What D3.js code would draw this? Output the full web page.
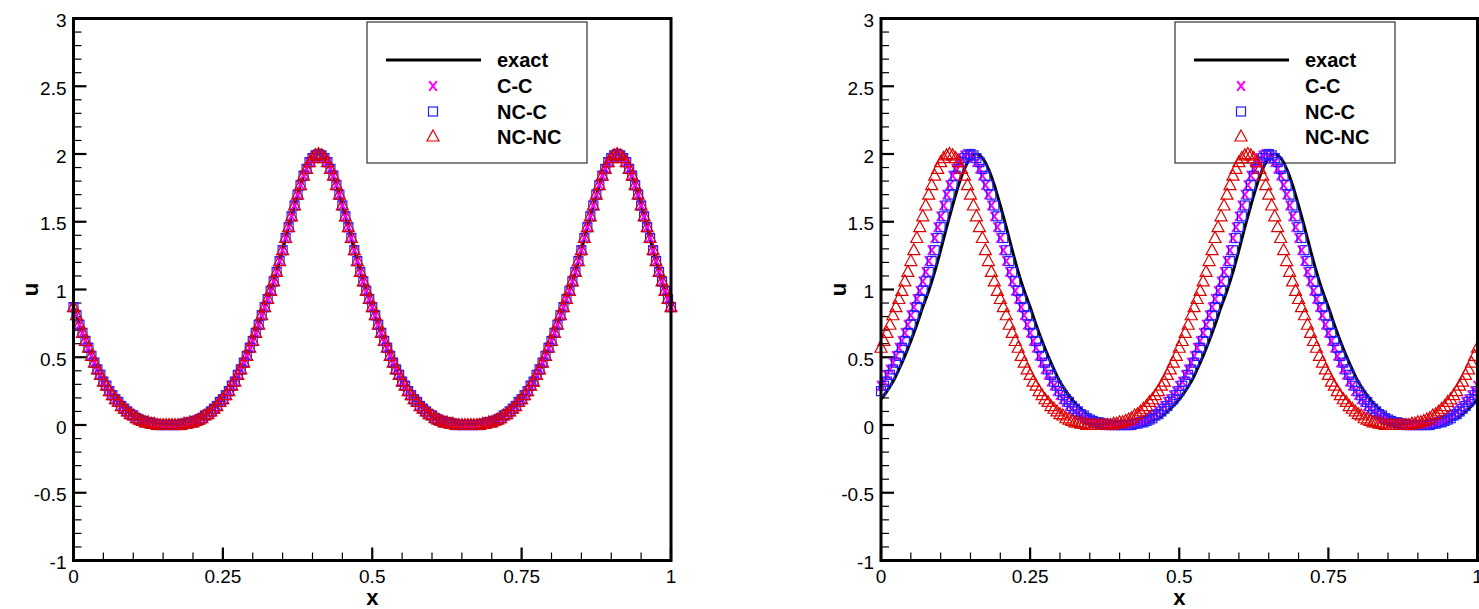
<!DOCTYPE html>
<html>
<head>
<meta charset="utf-8">
<script src="https://cdn.jsdelivr.net/npm/d3@7"></script>
<style>
  body { margin: 0; background: #fff; }
  svg { display: block; }
</style>
</head>
<body>
<div id="chart"></div>
<script>
// ── Data ──────────────────────────────────────────────────────────────────
const SERIES = ["exact", "C-C", "NC-C", "NC-NC"];

const xTicks = [0, 0.25, 0.5, 0.75, 1];
const xTickLabels = ["0", "0.25", "0.5", "0.75", "1"];
const yTicks = [-1, -0.5, 0, 0.5, 1, 1.5, 2, 2.5, 3];
const yTickLabels = ["-1", "-0.5", "0", "0.5", "1", "1.5", "2", "2.5", "3"];

// exact solution sampled every 0.01 in x, markers every 0.005 in x
const EXACT_DX = 0.01;
const MARK_DX = 0.005;

const leftExact = [
  0.87, 0.74, 0.62, 0.51, 0.41, 0.32, 0.25, 0.19, 0.14, 0.10,
  0.065, 0.04, 0.022, 0.01, 0.004, 0.001, 0, 0.001, 0.004, 0.01,
  0.022, 0.04, 0.065, 0.10, 0.14, 0.19, 0.25, 0.32, 0.41, 0.51,
  0.62, 0.74, 0.87, 0.99, 1.13, 1.29, 1.46, 1.62, 1.77, 1.89,
  1.97, 2.00, 1.97, 1.89, 1.77, 1.62, 1.46, 1.29, 1.13, 0.99,
  0.87, 0.74, 0.62, 0.51, 0.41, 0.32, 0.25, 0.19, 0.14, 0.10,
  0.065, 0.04, 0.022, 0.01, 0.004, 0.001, 0, 0.001, 0.004, 0.01,
  0.022, 0.04, 0.065, 0.10, 0.14, 0.19, 0.25, 0.32, 0.41, 0.51,
  0.62, 0.74, 0.87, 0.99, 1.13, 1.29, 1.46, 1.62, 1.77, 1.89,
  1.97, 2.00, 1.97, 1.89, 1.77, 1.62, 1.46, 1.29, 1.13, 0.99,
  0.87
];

// left panel: all three schemes sit on the exact curve
const leftCC = [
  0.87, 0.81,
  0.74, 0.68, 0.62, 0.57, 0.51, 0.46, 0.41, 0.37, 0.32, 0.29,
  0.25, 0.22, 0.19, 0.17, 0.14, 0.12, 0.10, 0.08, 0.07, 0.05,
  0.04, 0.03, 0.02, 0.02, 0.01, 0.01, 0, 0, 0, 0,
  0, 0, 0, 0, 0, 0.01, 0.01, 0.02, 0.02, 0.03,
  0.04, 0.05, 0.07, 0.08, 0.10, 0.12, 0.14, 0.17, 0.19, 0.22,
  0.25, 0.29, 0.32, 0.37, 0.41, 0.46, 0.51, 0.57, 0.62, 0.68,
  0.74, 0.81, 0.87, 0.93, 0.99, 1.06, 1.13, 1.21, 1.29, 1.38,
  1.46, 1.54, 1.62, 1.70, 1.77, 1.84, 1.89, 1.94, 1.97, 1.99,
  2, 1.99, 1.97, 1.94, 1.89, 1.84, 1.77, 1.70, 1.62, 1.54,
  1.46, 1.38, 1.29, 1.21, 1.13, 1.06, 0.99, 0.93, 0.87, 0.81,
  0.74, 0.68, 0.62, 0.57, 0.51, 0.46, 0.41, 0.37, 0.32, 0.29,
  0.25, 0.22, 0.19, 0.17, 0.14, 0.12, 0.10, 0.08, 0.07, 0.05,
  0.04, 0.03, 0.02, 0.02, 0.01, 0.01, 0, 0, 0, 0,
  0, 0, 0, 0, 0, 0.01, 0.01, 0.02, 0.02, 0.03,
  0.04, 0.05, 0.07, 0.08, 0.10, 0.12, 0.14, 0.17, 0.19, 0.22,
  0.25, 0.29, 0.32, 0.37, 0.41, 0.46, 0.51, 0.57, 0.62, 0.68,
  0.74, 0.81, 0.87, 0.93, 0.99, 1.06, 1.13, 1.21, 1.29, 1.38,
  1.46, 1.54, 1.62, 1.70, 1.77, 1.84, 1.89, 1.94, 1.97, 1.99,
  2, 1.99, 1.97, 1.94, 1.89, 1.84, 1.77, 1.70, 1.62, 1.54,
  1.46, 1.38, 1.29, 1.21, 1.13, 1.06, 0.99, 0.93, 0.87
];
const leftNCC = leftCC;   // overlaps C-C on the picture
const leftNCNC = leftCC;  // overlaps C-C on the picture

const rightExact = [
  0.19, 0.25, 0.32, 0.41, 0.51, 0.62, 0.74, 0.87, 0.99, 1.13,
  1.29, 1.46, 1.62, 1.77, 1.89, 1.97, 2.00, 1.97, 1.89, 1.77,
  1.62, 1.46, 1.29, 1.13, 0.99, 0.87, 0.74, 0.62, 0.51, 0.41,
  0.32, 0.25, 0.19, 0.14, 0.10, 0.065, 0.04, 0.022, 0.01, 0.004,
  0.001, 0, 0.001, 0.004, 0.01, 0.022, 0.04, 0.065, 0.10, 0.14,
  0.19, 0.25, 0.32, 0.41, 0.51, 0.62, 0.74, 0.87, 0.99, 1.13,
  1.29, 1.46, 1.62, 1.77, 1.89, 1.97, 2.00, 1.97, 1.89, 1.77,
  1.62, 1.46, 1.29, 1.13, 0.99, 0.87, 0.74, 0.62, 0.51, 0.41,
  0.32, 0.25, 0.19, 0.14, 0.10, 0.065, 0.04, 0.022, 0.01, 0.004,
  0.001, 0, 0.001, 0.004, 0.01, 0.022, 0.04, 0.065, 0.10, 0.14,
  0.19
];

const rightCC = [
  0.29, 0.32, 0.37, 0.41, 0.46, 0.51, 0.57, 0.62, 0.68,
  0.74, 0.81, 0.87, 0.93, 0.99, 1.06, 1.13, 1.21, 1.29, 1.38,
  1.46, 1.54, 1.62, 1.70, 1.77, 1.84, 1.89, 1.94, 1.97, 1.99,
  2, 1.99, 1.97, 1.94, 1.89, 1.84, 1.77, 1.70, 1.62, 1.54,
  1.46, 1.38, 1.29, 1.21, 1.13, 1.06, 0.99, 0.93, 0.87, 0.81,
  0.74, 0.68, 0.62, 0.57, 0.51, 0.46, 0.41, 0.37, 0.32, 0.29,
  0.25, 0.22, 0.19, 0.17, 0.14, 0.12, 0.10, 0.08, 0.07, 0.05,
  0.04, 0.03, 0.02, 0.02, 0.01, 0.01, 0, 0, 0, 0,
  0, 0, 0, 0, 0, 0.01, 0.01, 0.02, 0.02, 0.03,
  0.04, 0.05, 0.07, 0.08, 0.10, 0.12, 0.14, 0.17, 0.19, 0.22,
  0.25, 0.29, 0.32, 0.37, 0.41, 0.46, 0.51, 0.57, 0.62, 0.68,
  0.74, 0.81, 0.87, 0.93, 0.99, 1.06, 1.13, 1.21, 1.29, 1.38,
  1.46, 1.54, 1.62, 1.70, 1.77, 1.84, 1.89, 1.94, 1.97, 1.99,
  2, 1.99, 1.97, 1.94, 1.89, 1.84, 1.77, 1.70, 1.62, 1.54,
  1.46, 1.38, 1.29, 1.21, 1.13, 1.06, 0.99, 0.93, 0.87, 0.81,
  0.74, 0.68, 0.62, 0.57, 0.51, 0.46, 0.41, 0.37, 0.32, 0.29,
  0.25, 0.22, 0.19, 0.17, 0.14, 0.12, 0.10, 0.08, 0.07, 0.05,
  0.04, 0.03, 0.02, 0.02, 0.01, 0.01, 0, 0, 0, 0,
  0, 0, 0, 0, 0, 0.01, 0.01, 0.02, 0.02, 0.03,
  0.04, 0.05, 0.07, 0.08, 0.10, 0.12, 0.14, 0.17, 0.19, 0.22,
  0.25, 0.29
];

const rightNCC = [
  0.25, 0.29, 0.32, 0.37, 0.41, 0.46, 0.51, 0.57, 0.62, 0.68,
  0.74, 0.81, 0.87, 0.93, 0.99, 1.06, 1.13, 1.21, 1.29, 1.38,
  1.46, 1.54, 1.62, 1.70, 1.77, 1.84, 1.89, 1.94, 1.97, 1.99,
  2, 1.99, 1.97, 1.94, 1.89, 1.84, 1.77, 1.70, 1.62, 1.54,
  1.46, 1.38, 1.29, 1.21, 1.13, 1.06, 0.99, 0.93, 0.87, 0.81,
  0.74, 0.68, 0.62, 0.57, 0.51, 0.46, 0.41, 0.37, 0.32, 0.29,
  0.25, 0.22, 0.19, 0.17, 0.14, 0.12, 0.10, 0.08, 0.07, 0.05,
  0.04, 0.03, 0.02, 0.02, 0.01, 0.01, 0, 0, 0, 0,
  0, 0, 0, 0, 0, 0.01, 0.01, 0.02, 0.02, 0.03,
  0.04, 0.05, 0.07, 0.08, 0.10, 0.12, 0.14, 0.17, 0.19, 0.22,
  0.25, 0.29, 0.32, 0.37, 0.41, 0.46, 0.51, 0.57, 0.62, 0.68,
  0.74, 0.81, 0.87, 0.93, 0.99, 1.06, 1.13, 1.21, 1.29, 1.38,
  1.46, 1.54, 1.62, 1.70, 1.77, 1.84, 1.89, 1.94, 1.97, 1.99,
  2, 1.99, 1.97, 1.94, 1.89, 1.84, 1.77, 1.70, 1.62, 1.54,
  1.46, 1.38, 1.29, 1.21, 1.13, 1.06, 0.99, 0.93, 0.87, 0.81,
  0.74, 0.68, 0.62, 0.57, 0.51, 0.46, 0.41, 0.37, 0.32, 0.29,
  0.25, 0.22, 0.19, 0.17, 0.14, 0.12, 0.10, 0.08, 0.07, 0.05,
  0.04, 0.03, 0.02, 0.02, 0.01, 0.01, 0, 0, 0, 0,
  0, 0, 0, 0, 0, 0.01, 0.01, 0.02, 0.02, 0.03,
  0.04, 0.05, 0.07, 0.08, 0.10, 0.12, 0.14, 0.17, 0.19, 0.22,
  0.25
];

const rightNCNC = [
  0.57, 0.62, 0.68,
  0.74, 0.81, 0.87, 0.93, 0.99, 1.06, 1.13, 1.21, 1.29, 1.38,
  1.46, 1.54, 1.62, 1.70, 1.77, 1.84, 1.89, 1.94, 1.97, 1.99,
  2, 1.99, 1.97, 1.94, 1.89, 1.84, 1.77, 1.70, 1.62, 1.54,
  1.46, 1.38, 1.29, 1.21, 1.13, 1.06, 0.99, 0.93, 0.87, 0.81,
  0.74, 0.68, 0.62, 0.57, 0.51, 0.46, 0.41, 0.37, 0.32, 0.29,
  0.25, 0.22, 0.19, 0.17, 0.14, 0.12, 0.10, 0.08, 0.07, 0.05,
  0.04, 0.03, 0.02, 0.02, 0.01, 0.01, 0, 0, 0, 0,
  0, 0, 0, 0, 0, 0.01, 0.01, 0.02, 0.02, 0.03,
  0.04, 0.05, 0.07, 0.08, 0.10, 0.12, 0.14, 0.17, 0.19, 0.22,
  0.25, 0.29, 0.32, 0.37, 0.41, 0.46, 0.51, 0.57, 0.62, 0.68,
  0.74, 0.81, 0.87, 0.93, 0.99, 1.06, 1.13, 1.21, 1.29, 1.38,
  1.46, 1.54, 1.62, 1.70, 1.77, 1.84, 1.89, 1.94, 1.97, 1.99,
  2, 1.99, 1.97, 1.94, 1.89, 1.84, 1.77, 1.70, 1.62, 1.54,
  1.46, 1.38, 1.29, 1.21, 1.13, 1.06, 0.99, 0.93, 0.87, 0.81,
  0.74, 0.68, 0.62, 0.57, 0.51, 0.46, 0.41, 0.37, 0.32, 0.29,
  0.25, 0.22, 0.19, 0.17, 0.14, 0.12, 0.10, 0.08, 0.07, 0.05,
  0.04, 0.03, 0.02, 0.02, 0.01, 0.01, 0, 0, 0, 0,
  0, 0, 0, 0, 0, 0.01, 0.01, 0.02, 0.02, 0.03,
  0.04, 0.05, 0.07, 0.08, 0.10, 0.12, 0.14, 0.17, 0.19, 0.22,
  0.25, 0.29, 0.32, 0.37, 0.41, 0.46, 0.51, 0.57
];

// ── Layout ────────────────────────────────────────────────────────────────
const W = 1479, H = 609;
const TOP = 18.5, BOTTOM = 560.5;
const FONT = "'Liberation Sans', Arial, Helvetica, sans-serif";

const COLORS = { exact: "#000", cc: "#ff00ff", ncc: "#2020ff", ncnc: "#dd0000" };

const panels = [
  { x0: 73.5, x1: 671, legendX: 367, uX: 30,
    exact: leftExact, cc: leftCC, ncc: leftNCC, ncnc: leftNCNC },
  { x0: 881, x1: 1477.5, legendX: 1175, uX: 838,
    exact: rightExact, cc: rightCC, ncc: rightNCC, ncnc: rightNCNC }
];

const svg = d3.select("#chart").append("svg")
  .attr("width", W)
  .attr("height", H)
  .style("font-family", FONT);

// marker painters
function drawCross(g, x, y) {
  g.append("path")
    .attr("d", `M${x - 3.8},${y - 4.8}L${x + 3.8},${y + 4.8}M${x + 3.8},${y - 4.8}L${x - 3.8},${y + 4.8}`)
    .attr("stroke", COLORS.cc).attr("stroke-width", 2).attr("fill", "none");
}
function drawSquare(g, x, y) {
  g.append("rect")
    .attr("x", x - 4.5).attr("y", y - 4.5).attr("width", 9).attr("height", 9)
    .attr("stroke", COLORS.ncc).attr("stroke-width", 1.2).attr("fill", "none");
}
function drawTriangle(g, x, y) {
  g.append("path")
    .attr("d", `M${x},${y - 6.5}L${x + 6},${y + 4.5}L${x - 6},${y + 4.5}Z`)
    .attr("stroke", COLORS.ncnc).attr("stroke-width", 1.2).attr("fill", "none");
}

panels.forEach(p => {
  const x = d3.scaleLinear().domain([0, 1]).range([p.x0, p.x1]);
  const y = d3.scaleLinear().domain([-1, 3]).range([BOTTOM, TOP]);
  const g = svg.append("g");

  // ── Ticks ─────────────────────────────────────────────────────────────
  const minorX = d3.range(0, 1.0001, 0.05).filter(v => !xTicks.some(t => Math.abs(t - v) < 1e-6));
  const minorY = d3.range(-1, 3.0001, 0.1).filter(v => !yTicks.some(t => Math.abs(t - v) < 1e-6));

  g.selectAll(".mx").data(minorX).join("line")
    .attr("class", "mx")
    .attr("x1", d => x(d)).attr("x2", d => x(d))
    .attr("y1", BOTTOM).attr("y2", BOTTOM - 8)
    .attr("stroke", "#000").attr("stroke-width", 1.2);
  g.selectAll(".my").data(minorY).join("line")
    .attr("class", "my")
    .attr("y1", d => y(d)).attr("y2", d => y(d))
    .attr("x1", p.x0).attr("x2", p.x0 + 8)
    .attr("stroke", "#000").attr("stroke-width", 1.2);
  g.selectAll(".Mx").data(xTicks).join("line")
    .attr("class", "Mx")
    .attr("x1", d => x(d)).attr("x2", d => x(d))
    .attr("y1", BOTTOM).attr("y2", BOTTOM - 13)
    .attr("stroke", "#000").attr("stroke-width", 2.2);
  g.selectAll(".My").data(yTicks).join("line")
    .attr("class", "My")
    .attr("y1", d => y(d)).attr("y2", d => y(d))
    .attr("x1", p.x0).attr("x2", p.x0 + 13)
    .attr("stroke", "#000").attr("stroke-width", 2.2);

  // tick labels
  g.selectAll(".lx").data(xTicks).join("text")
    .attr("class", "lx")
    .attr("x", d => x(d)).attr("y", BOTTOM + 22)
    .attr("text-anchor", "middle")
    .style("font-size", "19px")
    .text((d, i) => xTickLabels[i]);
  g.selectAll(".ly").data(yTicks).join("text")
    .attr("class", "ly")
    .attr("x", p.x0 - 7).attr("y", d => y(d) + 8.5)
    .attr("text-anchor", "end")
    .style("font-size", "19px")
    .text((d, i) => yTickLabels[i]);

  // axis titles
  g.append("text")
    .attr("x", (p.x0 + p.x1) / 2).attr("y", 605)
    .attr("text-anchor", "middle")
    .style("font-size", "22px").style("font-weight", "bold")
    .text("x");
  g.append("text")
    .attr("transform", `translate(${p.uX},${y(1)}) rotate(-90)`)
    .attr("text-anchor", "middle")
    .attr("dy", "0.35em")
    .style("font-size", "22px").style("font-weight", "bold")
    .text("u");

  // ── Legend (box is see-through; curves pass over it) ─────────────────
  const lg = g.append("g");
  const lx = p.legendX;
  lg.append("rect")
    .attr("x", lx).attr("y", 22).attr("width", 220).attr("height", 141)
    .attr("fill", "none").attr("stroke", "#333").attr("stroke-width", 1.2);
  const rows = [60, 86, 111.5, 136.5];
  lg.append("line")
    .attr("x1", lx + 19).attr("x2", lx + 114)
    .attr("y1", rows[0]).attr("y2", rows[0])
    .attr("stroke", "#000").attr("stroke-width", 3.2);
  drawCross(lg, lx + 66, rows[1]);
  drawSquare(lg, lx + 66, rows[2]);
  drawTriangle(lg, lx + 66, rows[3]);
  SERIES.forEach((s, i) => {
    lg.append("text")
      .attr("x", lx + 130).attr("y", rows[i] + 7)
      .style("font-size", "20px").style("font-weight", "bold")
      .text(s);
  });

  // ── Curves ────────────────────────────────────────────────────────────
  const line = d3.line()
    .x((d, i) => x(i * EXACT_DX))
    .y(d => y(d))
    .curve(d3.curveCatmullRom);
  g.append("path")
    .datum(p.exact)
    .attr("d", line)
    .attr("fill", "none")
    .attr("stroke", COLORS.exact)
    .attr("stroke-width", 3);

  const marks = g.append("g");
  p.cc.forEach((v, i) => drawCross(marks, x(i * MARK_DX), y(v)));
  p.ncc.forEach((v, i) => drawSquare(marks, x(i * MARK_DX), y(v)));
  p.ncnc.forEach((v, i) => drawTriangle(marks, x(i * MARK_DX), y(v)));

  // ── Frame ─────────────────────────────────────────────────────────────
  g.append("rect")
    .attr("x", p.x0).attr("y", TOP)
    .attr("width", p.x1 - p.x0).attr("height", BOTTOM - TOP)
    .attr("fill", "none").attr("stroke", "#000").attr("stroke-width", 3);
});
</script>
</body>
</html>
